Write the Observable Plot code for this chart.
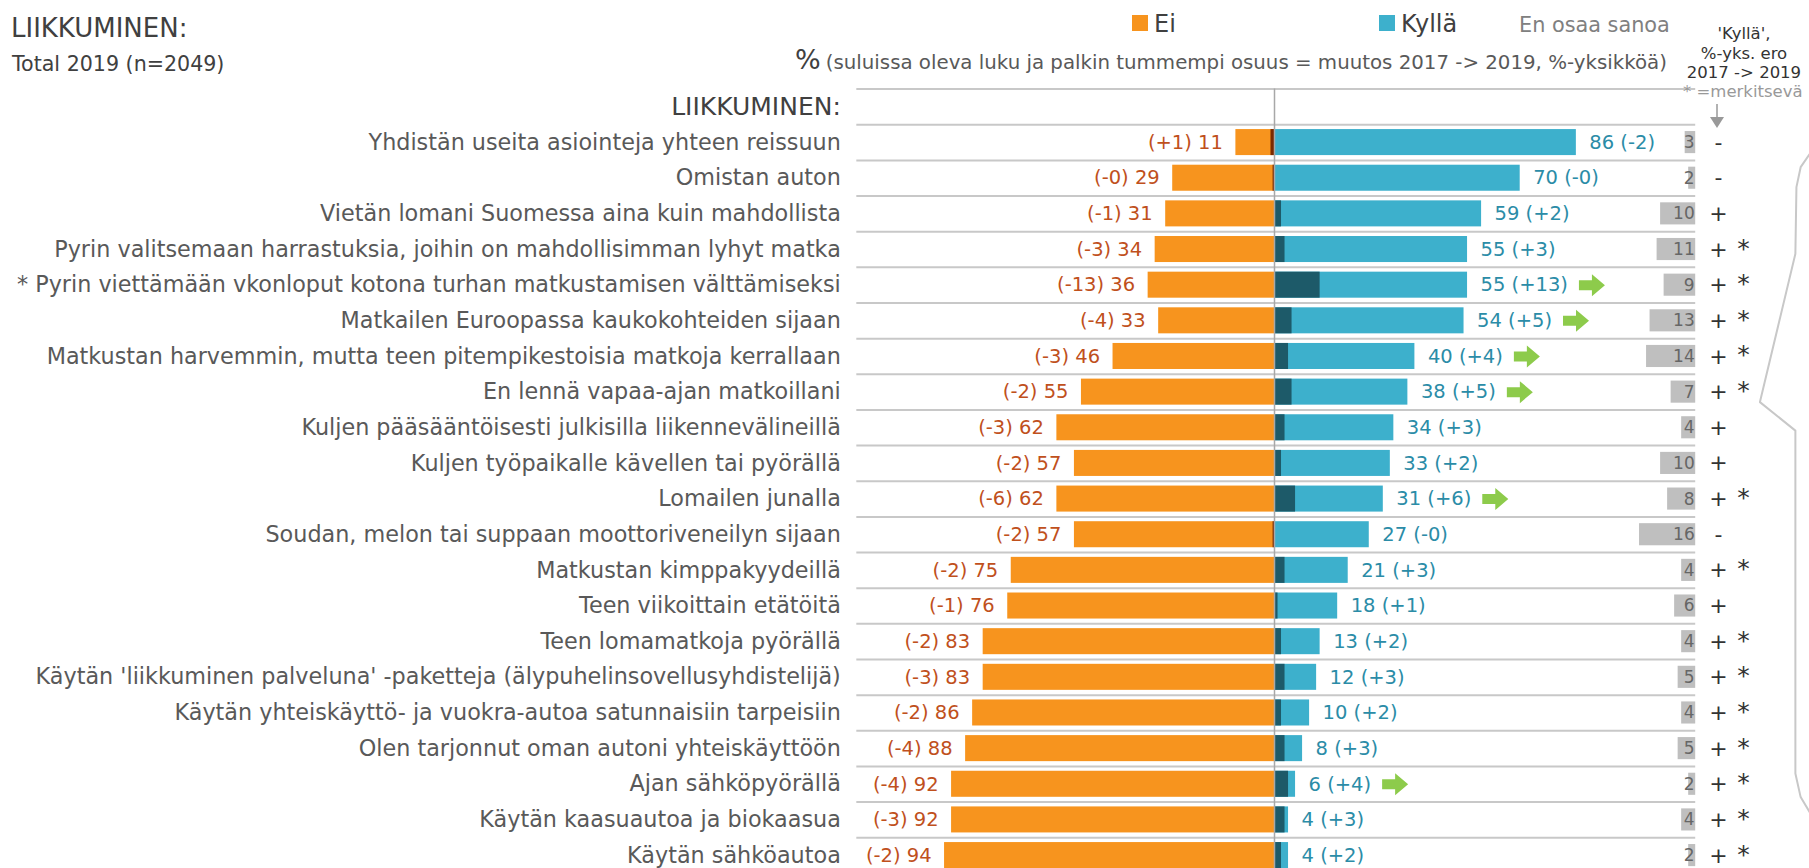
<!DOCTYPE html>
<html>
<head>
<meta charset="utf-8">
<script src="https://cdn.jsdelivr.net/npm/d3@7"></script>
<script src="https://cdn.jsdelivr.net/npm/@observablehq/plot@0.6"></script>
<style>
  body { margin: 0; background: #fff; font-family: "DejaVu Sans", sans-serif; }
  #wrap { position: relative; width: 1809px; height: 868px; overflow: hidden; background: #fff; }
  #wrap > svg { position: absolute; left: 0; top: 0; }
  .abs { position: absolute; white-space: nowrap; line-height: 1; z-index: 2; }
</style>
</head>
<body>
<div id="wrap">
  <div class="abs" style="left:11px;top:15px;font-size:26px;color:#404040;">LIIKKUMINEN:</div>
  <div class="abs" style="left:12px;top:54px;font-size:20.6px;color:#404040;">Total 2019 (n=2049)</div>
  <div class="abs" style="left:795px;top:46px;color:#404040;"><span style="font-size:27px;">%</span> <span style="font-size:19.8px;color:#595959;">(suluissa oleva luku ja palkin tummempi osuus = muutos 2017 -&gt; 2019, %-yksikköä)</span></div>
  <div class="abs" style="left:1132px;top:15px;width:16px;height:16px;background:#F7941E;"></div>
  <div class="abs" style="left:1154px;top:12px;font-size:24px;color:#404040;">Ei</div>
  <div class="abs" style="left:1379px;top:15px;width:16px;height:16px;background:#3DB0CC;"></div>
  <div class="abs" style="left:1401px;top:12px;font-size:24px;color:#404040;">Kyllä</div>
  <div class="abs" style="left:1519px;top:15px;font-size:20.8px;color:#808080;">En osaa sanoa</div>
  <div class="abs" style="left:1744px;top:24px;transform:translateX(-50%);font-size:16.5px;color:#333;text-align:center;line-height:19.5px;">'Kyllä',<br>%-yks. ero<br>2017 -&gt; 2019</div>
  <div class="abs" style="left:1683px;top:84px;font-size:16.5px;color:#999;">* =merkitsevä</div>
  <svg class="abs" style="left:1708px;top:104px;" width="20" height="26"><line x1="9" y1="0" x2="9" y2="14" stroke="#999" stroke-width="1.5"/><path d="M2,13 L16,13 L9,24 Z" fill="#999"/></svg>
</div>
<script>
// ---- data ----
const labels = [
  "Yhdistän useita asiointeja yhteen reissuun",
  "Omistan auton",
  "Vietän lomani Suomessa aina kuin mahdollista",
  "Pyrin valitsemaan harrastuksia, joihin on mahdollisimman lyhyt matka",
  "* Pyrin viettämään vkonloput kotona turhan matkustamisen välttämiseksi",
  "Matkailen Euroopassa kaukokohteiden sijaan",
  "Matkustan harvemmin, mutta teen pitempikestoisia matkoja kerrallaan",
  "En lennä vapaa-ajan matkoillani",
  "Kuljen pääsääntöisesti julkisilla liikennevälineillä",
  "Kuljen työpaikalle kävellen tai pyörällä",
  "Lomailen junalla",
  "Soudan, melon tai suppaan moottoriveneilyn sijaan",
  "Matkustan kimppakyydeillä",
  "Teen viikoittain etätöitä",
  "Teen lomamatkoja pyörällä",
  "Käytän 'liikkuminen palveluna' -paketteja (älypuhelinsovellusyhdistelijä)",
  "Käytän yhteiskäyttö- ja vuokra-autoa satunnaisiin tarpeisiin",
  "Olen tarjonnut oman autoni yhteiskäyttöön",
  "Ajan sähköpyörällä",
  "Käytän kaasuautoa ja biokaasua",
  "Käytän sähköautoa"
];
const sectionLabel = "LIIKKUMINEN:";
const ei          = [11, 29, 31, 34, 36, 33, 46, 55, 62, 57, 62, 57, 75, 76, 83, 83, 86, 88, 92, 92, 94];
const eiChange    = [1, -0, -1, -3, -13, -4, -3, -2, -3, -2, -6, -2, -2, -1, -2, -3, -2, -4, -4, -3, -2];
const eiDark      = [1, 0.4, 0, 0, 0, 0, 0, 0, 0, 0, 0, 0.4, 0, 0, 0, 0, 0, 0, 0, 0, 0];
const kylla       = [86, 70, 59, 55, 55, 54, 40, 38, 34, 33, 31, 27, 21, 18, 13, 12, 10, 8, 6, 4, 4];
const kyllaChange = [-2, -0, 2, 3, 13, 5, 4, 5, 3, 2, 6, -0, 3, 1, 2, 3, 2, 3, 4, 3, 2];
const eos         = [3, 2, 10, 11, 9, 13, 14, 7, 4, 10, 8, 16, 4, 6, 4, 5, 4, 5, 2, 4, 2];
const significant = [0, 0, 0, 1, 1, 1, 1, 1, 0, 0, 1, 0, 1, 0, 1, 1, 1, 1, 1, 1, 1];
// bracket decoration on the right, in x (%-units) and row units
const bracketX = [153.2, 149.9, 148.7, 148.4, 138.3, 148.4, 148.4, 149.9, 152.7];
const bracketY = [1.22, 1.69, 2.25, 4.12, 8.28, 9.08, 18.70, 19.36, 19.82];

// ---- styles ----
const C = {
  ei: "#F7941E", eiDark: "#7A2A00", ky: "#3DB0CC", kyDark: "#1D5A69",
  eiText: "#C0501C", kyText: "#2B8CA7", eos: "#BFBFBF", eosText: "#666666",
  grid: "#C8C8C8", center: "#A8A8A8", label: "#595959", sign: "#333333", arrow: "#8DCB4B"
};
const FONT = "'DejaVu Sans', sans-serif";
const valueSize = 19.5;

const isNeg = v => v < 0 || Object.is(v, -0);
const fmt = v => (isNeg(v) ? "-" : "+") + Math.abs(v);

const xDomain = [-120, 120], xRange = [852.8, 1695.2];
const xs = d3.scaleLinear(xDomain, xRange);
const ctx = document.createElement("canvas").getContext("2d");
ctx.font = `${valueSize}px 'DejaVu Sans'`;

const rows = labels.map((label, k) => {
  const kyLabel = `${kylla[k]} (${fmt(kyllaChange[k])})`;
  const w = ctx.measureText(kyLabel).width;
  return {
    i: k + 1, label,
    ei: ei[k], eiDark: eiDark[k], ky: kylla[k],
    kyDark: Math.max(0, kyllaChange[k]),
    eos: eos[k],
    eiLabel: `(${fmt(eiChange[k])}) ${ei[k]}`,
    kyLabel,
    sign: isNeg(kyllaChange[k]) ? "-" : "+",
    star: significant[k] ? "*" : "",
    arrow: kyllaChange[k] >= 4,
    arrowX: xs.invert(xs(kylla[k]) + 13 + w + 11 + 13)
  };
});
const gridY = d3.range(-0.5, 21, 1);
const bracket = bracketX.map((x, k) => ({x, y: bracketY[k]}));

const arrowSymbol = {
  draw(c) {
    c.moveTo(-13, -5); c.lineTo(0, -5); c.lineTo(0, -11); c.lineTo(13, 0);
    c.lineTo(0, 11); c.lineTo(0, 5); c.lineTo(-13, 5); c.closePath();
  }
};
const H = 0.365, HB = 0.31;

const chart = Plot.plot({
  width: 1809, height: 868, margin: 0,
  style: {fontFamily: FONT, background: "transparent"},
  x: {domain: xDomain, range: xRange, axis: null},
  y: {domain: [-0.5, 21.5], range: [88.6, 872.9], axis: null},
  marks: [
    Plot.ruleY(gridY, {y: d => d, x1: -119, x2: 120, stroke: C.grid, strokeWidth: 2}),
    Plot.rect(rows, {x1: d => -d.ei, x2: 0, y1: d => d.i - H, y2: d => d.i + H, fill: C.ei}),
    Plot.rect(rows.filter(d => d.eiDark > 0), {x1: d => -d.eiDark, x2: 0, y1: d => d.i - H, y2: d => d.i + H, fill: C.eiDark}),
    Plot.rect(rows, {x1: 0, x2: d => d.ky, y1: d => d.i - H, y2: d => d.i + H, fill: C.ky}),
    Plot.rect(rows.filter(d => d.kyDark > 0), {x1: 0, x2: d => d.kyDark, y1: d => d.i - H, y2: d => d.i + H, fill: C.kyDark}),
    Plot.rect(rows, {x1: d => 120 - d.eos, x2: 120, y1: d => d.i - HB, y2: d => d.i + HB, fill: C.eos}),
    Plot.ruleX([0], {y1: -0.5, y2: 21.6, stroke: C.center, strokeWidth: 1.5}),
    Plot.text(rows, {x: -119, y: "i", text: "label", dx: -16, textAnchor: "end", fill: C.label, fontSize: 22.3}),
    Plot.text([sectionLabel], {x: -119, y: 0, text: d => d, dx: -16, textAnchor: "end", fill: "#404040", fontSize: 25}),
    Plot.text(rows, {x: d => -d.ei, y: "i", text: "eiLabel", dx: -13, textAnchor: "end", fill: C.eiText, fontSize: valueSize}),
    Plot.text(rows, {x: "ky", y: "i", text: "kyLabel", dx: 13, textAnchor: "start", fill: C.kyText, fontSize: valueSize}),
    Plot.dot(rows.filter(d => d.arrow), {x: "arrowX", y: "i", symbol: arrowSymbol, fill: C.arrow, stroke: "none", r: 5}),
    Plot.text(rows, {x: 120, y: "i", text: d => String(d.eos), dx: -1, textAnchor: "end", fill: C.eosText, fontSize: 17}),
    Plot.text(rows, {x: 126.5, y: "i", text: "sign", textAnchor: "middle", fill: C.sign, fontSize: 22}),
    Plot.text(rows, {x: 133.6, y: "i", text: "star", textAnchor: "middle", fill: C.sign, fontSize: 25, dy: -1}),
    Plot.line(bracket, {x: "x", y: "y", stroke: C.grid, strokeWidth: 2})
  ]
});
document.getElementById("wrap").prepend(chart);
</script>
</body>
</html>
